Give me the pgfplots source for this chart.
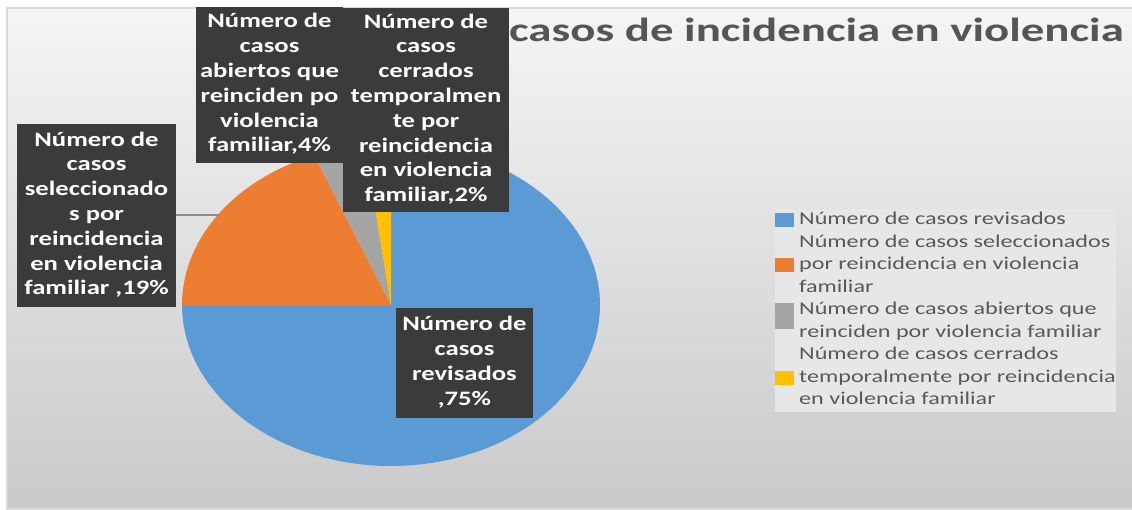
\documentclass[border=0pt]{standalone}
\usepackage{pgfplots}
\pgfplotsset{compat=1.18}
\usepackage{fontspec}
\setmainfont{Carlito}
\newfontfamily\wfont[FakeStretch=1.3]{Carlito}
\newfontfamily\lfont[FakeStretch=1.34]{Carlito}
\newfontfamily\tfont[FakeStretch=1.4]{Carlito}
\definecolor{pieblue}{HTML}{5B9BD5}
\definecolor{pieorange}{HTML}{ED7D31}
\definecolor{piegray}{HTML}{A5A5A5}
\definecolor{pieyellow}{HTML}{FFC000}
\definecolor{boxbg}{HTML}{3B3B3B}
\definecolor{txtgray}{HTML}{595959}
\definecolor{titgray}{HTML}{555555}
\definecolor{legbg}{HTML}{E7E7E7}
% slice values (percent)
\def\vA{75}\def\vB{19}\def\vC{4}\def\vD{2}
\pgfmathsetmacro{\aA}{90-3.6*\vA}
\pgfmathsetmacro{\aB}{180-3.6*\vB}
\pgfmathsetmacro{\aC}{\aB-3.6*\vC}
\pgfmathsetmacro{\aD}{\aC-3.6*\vD}
\pgfplotsset{
  sqimg/.style={legend image code/.code={\fill[##1] (0pt,-7pt) rectangle (19pt,7pt);}},
  sqimglow/.style={legend image code/.code={\path (0pt,-7pt) rectangle (19pt,7pt);
     \fill[##1,overlay] (0pt,-18.25pt) rectangle (19pt,-4.25pt);}}}
\begin{document}
\begin{tikzpicture}[x=1pt,y=1pt]
\useasboundingbox (0,0) rectangle (1132,510);
\clip (0,0) rectangle (1132,510);
\fill[white] (0,0) rectangle (1132,510);
\shade[top color=black!4, bottom color=black!21] (7,1) rectangle (1140,502);
\draw[color=black!14, line width=1.2] (7,1) rectangle (1140,502);
% title (its beginning is hidden behind the data labels)
\node[anchor=base east, text=titgray, font=\tfont\bfseries\fontsize{33.5}{40}\selectfont, inner sep=0] at (1124,468) {casos de incidencia en violencia};
\begin{axis}[at={(182pt,44pt)}, anchor=south west, width=418pt, height=322pt,
  scale only axis, xmin=-1, xmax=1, ymin=-1, ymax=1, hide axis, clip=false,
  legend style={at={(1.4187,0.798)}, anchor=north west, fill=legbg, draw=none,
    inner sep=0pt, row sep=0pt, column sep=5pt,
    font=\lfont\fontsize{18}{22.5}\selectfont, text=txtgray,
    cells={anchor=west}, nodes={inner sep=0pt, text height=15.75pt, text depth=6.75pt}},
  sqimg]
\addplot[fill=pieblue, draw=none, domain=\aA:90, samples=150] ({cos(x)},{sin(x)}) -- (axis cs:0,0) -- cycle;
\addlegendentry{Número de casos revisados}
\addlegendimage{empty legend}
\addlegendentry{Número de casos seleccionados}
\addplot[fill=pieorange, draw=none, domain=\aB:180, samples=60] ({cos(x)},{sin(x)}) -- (axis cs:0,0) -- cycle;
\addlegendentry{por reincidencia en violencia}
\addlegendimage{empty legend}
\addlegendentry{familiar}
\addplot[fill=piegray, draw=none, domain=\aC:\aB, samples=20, sqimglow] ({cos(x)},{sin(x)}) -- (axis cs:0,0) -- cycle;
\addlegendentry{Número de casos abiertos que}
\addlegendimage{empty legend}
\addlegendentry{reinciden por violencia familiar}
\addlegendimage{empty legend}
\addlegendentry{Número de casos cerrados}
\addplot[fill=pieyellow, draw=none, domain=\aD:\aC, samples=20] ({cos(x)},{sin(x)}) -- (axis cs:0,0) -- cycle;
\addlegendentry{temporalmente por reincidencia\hspace{25pt}}
\addlegendimage{empty legend}
\addlegendentry{en violencia familiar}
\end{axis}
% leader line
\draw[color=black!45, line width=1.3] (176,295) -- (219,295);
% data labels
\tikzset{dlab/.style={fill=boxbg, text=white, align=center, inner sep=0pt,
  font=\wfont\bfseries\fontsize{20.5}{24.8}\selectfont}}
\node[dlab, minimum width=147, minimum height=156] at (269.5,425)
  {\strut Número de\\casos\\abiertos que\\reinciden po\\violencia\\familiar,4\%\strut};
\node[dlab, minimum width=166, minimum height=204] at (426,400)
  {\strut Número de\\casos\\cerrados\\temporalmen\\te por\\reincidencia\\en violencia\\familiar,2\%\strut};
\node[dlab, minimum width=159, minimum height=183] at (96.5,294.5)
  {\strut Número de\\casos\\seleccionado\\s por\\reincidencia\\en violencia\\familiar ,19\%\strut};
\node[dlab, minimum width=137, minimum height=110] at (464.5,147)
  {\strut Número de\\casos\\revisados\\,75\%\strut};
\end{tikzpicture}
\end{document}
